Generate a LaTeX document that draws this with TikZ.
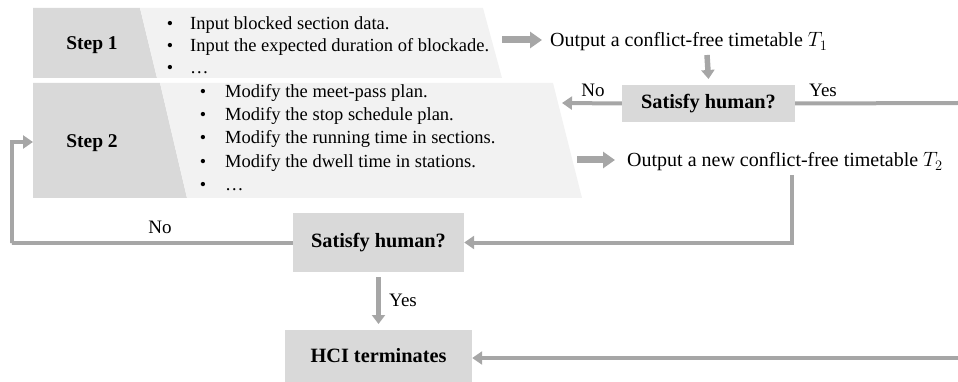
\documentclass[tikz,border=0pt]{standalone}
\usepackage{fontspec}
\setmainfont{Liberation Serif}
\usetikzlibrary{arrows.meta}
\definecolor{banddark}{HTML}{D9D9D9}
\definecolor{bandlight}{HTML}{F2F2F2}
\definecolor{flow}{HTML}{A6A6A6}

\begin{document}
\begin{tikzpicture}[x=1pt,y=-1pt,
  item/.style={font=\fontsize{18.5}{20}\selectfont, inner sep=0pt, anchor=base west},
  dot/.style={font=\fontsize{18}{20}\selectfont, inner sep=0pt, anchor=base},
  steplabel/.style={font=\fontsize{19.5}{22}\selectfont\bfseries, inner sep=0pt},
  outtext/.style={font=\fontsize{20}{22}\selectfont, inner sep=0pt, anchor=base west},
  decision/.style={fill=banddark, inner sep=0pt, font=\fontsize{20.3}{22}\selectfont\bfseries},
  lbl/.style={font=\fontsize{19}{21}\selectfont, inner sep=0pt},
  blockarrow/.style={draw=flow, line width=7pt, -{Triangle[width=16pt,length=12pt]}},
  smallblock/.style={draw=flow, line width=5.5pt, -{Triangle[width=13pt,length=9pt]}},
  flowline/.style={draw=flow, line width=4pt},
  flowarrow/.style={flowline, -{Triangle[width=13pt,length=10pt]}},
  ]
\useasboundingbox (0,0) rectangle (958,382);

% step bands
\fill[banddark]  (33,8) -- (140,8) -- (157,78) -- (33,78) -- cycle;
\fill[bandlight] (140,8) -- (483,8) -- (502,78) -- (157,78) -- cycle;
\fill[banddark]  (33,83) -- (160,83) -- (187,198) -- (33,198) -- cycle;
\fill[bandlight] (160,83) -- (553,83) -- (582,198) -- (187,198) -- cycle;

\node[steplabel] (s1) at (92,45) {Step 1};
\node[steplabel] (s2) at (92,143) {Step 2};

% step 1 items
\foreach \y/\t in {30/Input blocked section data.,
                   52/Input the expected duration of blockade.,
                   74/…} {
  \node[dot] at (170,\y) {•};
  \node[item] at (190,\y) {\t};
}
% step 2 items
\foreach \y/\t in {98/Modify the meet-pass plan.,
                   121/Modify the stop schedule plan.,
                   144/Modify the running time in sections.,
                   168/Modify the dwell time in stations.,
                   190/…} {
  \node[dot] at (203,\y) {•};
  \node[item] at (225,\y) {\t};
}

% outputs
\node[outtext] (t1) at (550,47) {Output a conflict-free timetable $T_1$};
\node[outtext] (t2) at (627,167) {Output a new conflict-free timetable $T_2$};

% decisions
\node[decision, minimum width=173pt, minimum height=37pt] (q1) at (708.5,103.5) {Satisfy human?};
\node[decision, minimum width=171pt, minimum height=59pt] (q2) at (378.5,242.5) {Satisfy human?};
\node[decision, minimum width=187pt, minimum height=52pt] (hci) at (378.5,356) {HCI terminates};

% anchor points of the flow
\coordinate (e1) at (502,40);
\coordinate (e2) at (577,160);
\coordinate (d1) at (707,55);
\coordinate (r1) at (958,103);
\coordinate (r2) at (958,358);
\coordinate (c2) at (792,175);
\coordinate (back) at (12,243);
\coordinate (s2in) at (33,142);

% connectors
\draw[blockarrow, shorten >=8pt] (e1) -- (t1.west |- e1);
\draw[blockarrow, shorten >=12pt] (e2) -- (t2.west |- e2);
\draw[smallblock] (d1) -- (q1.north |- 0,79);
\draw[flowarrow] (q1.west) -- (562,103);
\draw[flowline] (q1.east) -- (r1);
\draw[flowarrow] (c2) |- (q2.east);
\draw[flowarrow] (q2.west) -| (back) |- (s2in);
\draw[smallblock] (q2.south |- 0,277) -- (hci.north |- 0,324);
\draw[flowarrow] (r2) -- (hci.east |- r2);

% branch labels
\node[lbl] (no1) at (593,90) {No};
\node[lbl] (yes1) at (823,90) {Yes};
\node[lbl] (no2) at (160,227) {No};
\node[lbl] (yes2) at (403,300) {Yes};
\end{tikzpicture}
\end{document}
